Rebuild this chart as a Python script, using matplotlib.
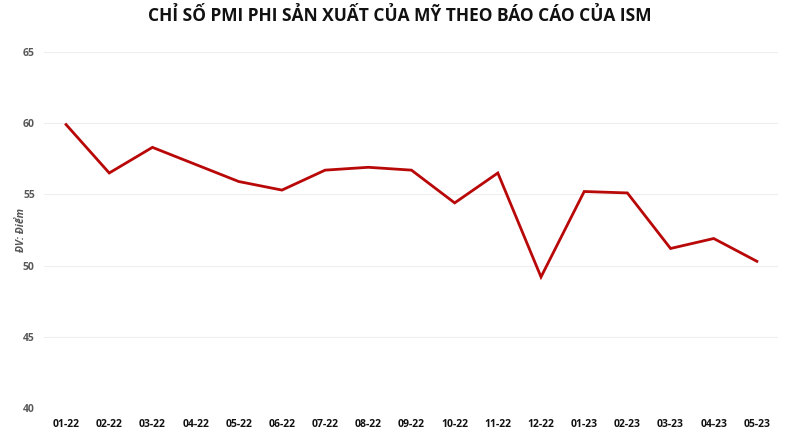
import matplotlib.pyplot as plt

plt.rcParams['font.family'] = ['Open Sans', 'DejaVu Sans']

months = ['01-22', '02-22', '03-22', '04-22', '05-22', '06-22', '07-22', '08-22', '09-22',
          '10-22', '11-22', '12-22', '01-23', '02-23', '03-23', '04-23', '05-23']
pmi = [59.9, 56.5, 58.3, 57.1, 55.9, 55.3, 56.7, 56.9, 56.7,
       54.4, 56.5, 49.2, 55.2, 55.1, 51.2, 51.9, 50.3]
yticks = [40, 45, 50, 55, 60, 65]

fig = plt.figure(figsize=(8, 4.4), dpi=100)
ax = fig.add_axes([0.0556, 0.0727, 0.9175, 0.8093])

x = range(len(months))
ax.plot(x, pmi, color='#B80808', linewidth=2.0, solid_joinstyle='miter')

ax.set_xlim(-0.5, len(months) - 0.5)
ax.set_ylim(40, 65)
ax.set_yticks(yticks)
ax.set_xticks(list(x))
ax.set_xticklabels(months, fontsize=7.5, fontweight='bold', color='#111111')
ax.tick_params(axis='y', labelsize=7.5, labelcolor='#595959', length=0, pad=7)
ax.tick_params(axis='x', length=0, pad=8)
for lbl in ax.get_yticklabels():
    lbl.set_fontweight('bold')

ax.grid(axis='y', color='#EEEEEE', linewidth=0.8)
ax.set_axisbelow(True)
for s in ax.spines.values():
    s.set_visible(False)

ax.set_ylabel('ĐV: Điểm', fontsize=7.5, style='italic', fontweight='bold',
              color='#555555')
ax.yaxis.set_label_coords(-0.024, 0.5)

fig.suptitle('CHỈ SỐ PMI PHI SẢN XUẤT CỦA MỸ THEO BÁO CÁO CỦA ISM',
             fontsize=12.5, fontweight='bold', color='#111111', y=0.985)

fig.savefig('out.png', dpi=100, facecolor='white')
